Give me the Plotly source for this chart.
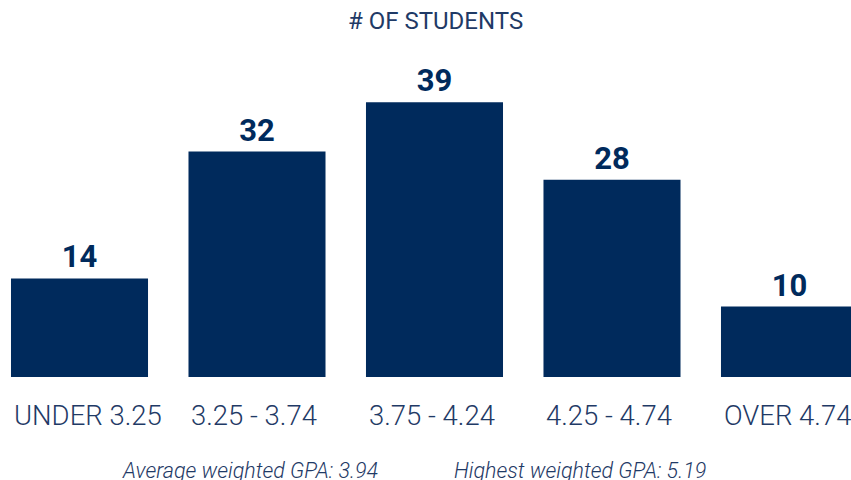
import plotly.graph_objects as go

categories = ["UNDER 3.25", "3.25 - 3.74", "3.75 - 4.24", "4.25 - 4.74", "OVER 4.74"]
students = [14, 32, 39, 28, 10]
title_text = "# OF STUDENTS"
footer_left = "Average weighted GPA: 3.94"
footer_right = "Highest weighted GPA: 5.19"

BAR = "#002a5c"
TXT = "#1f3a66"
LIGHT = "Roboto Light, Roboto, sans-serif"

fig = go.Figure()
fig.add_trace(go.Bar(
    x=categories, y=students,
    marker=dict(color=BAR, line=dict(width=0)),
    width=0.772,
    text=[str(v) for v in students],
    textposition="outside",
    textfont=dict(family="Roboto", size=31, color=BAR, weight=700),
    cliponaxis=False,
    hoverinfo="skip",
))

annotations = [
    dict(text=title_text, xref="paper", yref="paper", x=435.5/851, y=(377-21)/317,
         xanchor="center", yanchor="middle", showarrow=False,
         font=dict(family="Roboto", size=24, color=TXT, weight=400)),
    dict(text="<i>" + footer_left + "</i>", xref="paper", yref="paper", x=250/851, y=(377-470)/317,
         xanchor="center", yanchor="middle", showarrow=False,
         font=dict(family=LIGHT, size=21.5, color=TXT, weight=300)),
    dict(text="<i>" + footer_right + "</i>", xref="paper", yref="paper", x=579.5/851, y=(377-470)/317,
         xanchor="center", yanchor="middle", showarrow=False,
         font=dict(family=LIGHT, size=21.5, color=TXT, weight=300)),
]
# category labels, left-aligned with each bar's left edge
for c in categories:
    annotations.append(dict(
        text=c, x=c, xref="x", yref="paper", y=(377-416)/317,
        xanchor="left", yanchor="middle", xshift=-68, showarrow=False,
        font=dict(family=LIGHT, size=27.5, color=TXT, weight=300),
    ))

fig.update_layout(
    width=851, height=480,
    margin=dict(l=0, r=0, t=60, b=103),
    paper_bgcolor="white", plot_bgcolor="white",
    showlegend=False,
    xaxis=dict(
        type="category",
        range=[-0.4479, 4.3465],
        showgrid=False, zeroline=False, showline=False,
        showticklabels=False, ticks="",
    ),
    yaxis=dict(range=[0, 45.0], visible=False),
    annotations=annotations,
)

fig.write_html("out.html", config={"displayModeBar": False},
               post_script="document.body.style.margin='0';document.body.style.overflow='hidden';")
